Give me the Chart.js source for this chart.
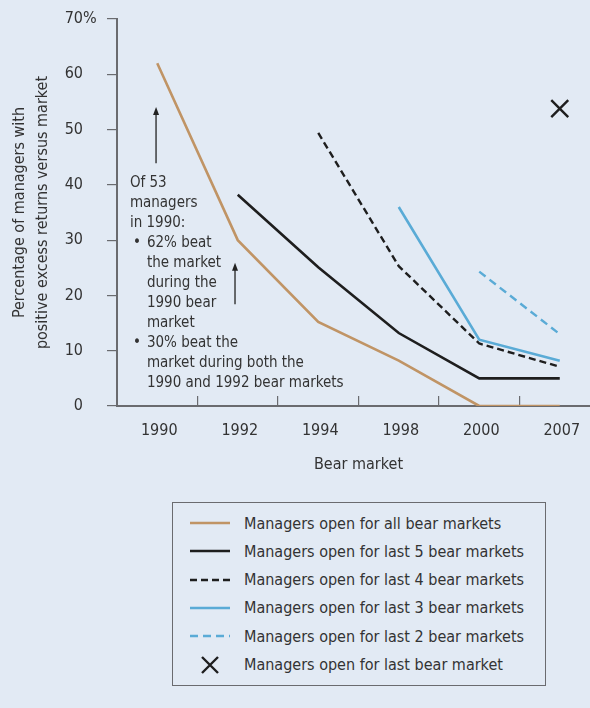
<!DOCTYPE html>
<html>
<head>
<meta charset="utf-8">
<script src="https://cdn.jsdelivr.net/npm/chart.js@4.4.1/dist/chart.umd.min.js"></script>
<style>
  html, body { margin: 0; padding: 0; background: #e2eaf4; overflow: hidden; width: 590px; height: 708px; }
  #wrap { position: absolute; left: 0; top: 0; width: 600px; height: 480px; }
  #legend { position: absolute; left: 172px; top: 502px; width: 372px; height: 182px; border: 1px solid #6a6b6f;
    font-family: "DejaVu Sans Condensed", "DejaVu Sans", sans-serif; font-stretch: condensed; font-size: 16px; color: #333; }
  .row { position: absolute; left: 0; height: 28px; display: flex; align-items: center; }
  .row svg { margin-left: 16px; width: 42px; height: 20px; }
  .row span { margin-left: 13px; white-space: nowrap; }
</style>
</head>
<body>
<div id="wrap"><canvas id="c" width="600" height="480"></canvas></div>
<div id="legend"></div>
<script>
const categories = ['1990', '1992', '1994', '1998', '2000', '2007'];
const allBear   = [62, 30, 15.2, 8.2, 0, 0];
const last5     = [null, 38.2, 25.1, 13.2, 5, 5];
const last4     = [null, null, 49.4, 25.3, 11.3, 7.1];
const last3     = [null, null, null, 36, 12, 8.2];
const last2     = [null, null, null, null, 24.3, 13];
const last1     = [null, null, null, null, null, 53.8];
const seriesNames = [
  'Managers open for all bear markets',
  'Managers open for last 5 bear markets',
  'Managers open for last 4 bear markets',
  'Managers open for last 3 bear markets',
  'Managers open for last 2 bear markets',
  'Managers open for last bear market'
];
const yTicks = [0, 10, 20, 30, 40, 50, 60, 70];
const noteLines = [
  {t: 'Of 53', indent: 0},
  {t: 'managers', indent: 0},
  {t: 'in 1990:', indent: 0},
  {t: '62% beat', indent: 1, bullet: true},
  {t: 'the market', indent: 1},
  {t: 'during the', indent: 1},
  {t: '1990 bear', indent: 1},
  {t: 'market', indent: 1},
  {t: '30% beat the', indent: 1, bullet: true},
  {t: 'market during both the', indent: 1},
  {t: '1990 and 1992 bear markets', indent: 1}
];

const FONT = '"DejaVu Sans Condensed", "DejaVu Sans", sans-serif';
const TXT = '#333333';
const AX = '#6a6b6f';
const TAN = '#c09465';
const BLUE = '#5aabd6';
const BLK = '#1e1e1e';

const annotPlugin = {
  id: 'annot',
  afterDatasetsDraw(chart) {
    const {ctx, scales: {x, y}} = chart;
    ctx.save();
    // "70%" top label
    ctx.font = '16px ' + FONT;
    ctx.fillStyle = TXT;
    ctx.textBaseline = 'middle';
    ctx.textAlign = 'left';
    const w70 = ctx.measureText('70').width;
    ctx.fillText('70%', y.right - 34 - w70, y.getPixelForValue(70));
    // note text
    ctx.font = '15px ' + FONT;
    const x0 = x.getPixelForValue(-0.34);
    let yy = y.getPixelForValue(40.3);
    noteLines.forEach(l => {
      if (l.bullet) ctx.fillText('\u2022', x0 + 3, yy);
      ctx.fillText(l.t, x0 + (l.indent ? 17 : 0), yy);
      yy += 20;
    });
    // arrows
    const arrow = (xv, y1v, y2v) => {
      const ax = x.getPixelForValue(xv);
      const a1 = y.getPixelForValue(y1v), a2 = y.getPixelForValue(y2v);
      ctx.strokeStyle = '#222';
      ctx.fillStyle = '#222';
      ctx.lineWidth = 1.3;
      ctx.beginPath(); ctx.moveTo(ax, a1); ctx.lineTo(ax, a2 + 6); ctx.stroke();
      ctx.beginPath(); ctx.moveTo(ax, a2); ctx.lineTo(ax - 3, a2 + 8); ctx.lineTo(ax + 3, a2 + 8); ctx.closePath(); ctx.fill();
    };
    arrow(-0.015, 43.9, 54.1);
    arrow(0.966, 18.4, 25.9);
    ctx.restore();
  }
};

const chart = new Chart(document.getElementById('c'), {
  type: 'line',
  data: {
    labels: categories,
    datasets: [
      {label: seriesNames[0], data: allBear, borderColor: TAN, borderWidth: 2.6, pointRadius: 0},
      {label: seriesNames[1], data: last5, borderColor: BLK, borderWidth: 2.6, pointRadius: 0},
      {label: seriesNames[2], data: last4, borderColor: BLK, borderWidth: 2.4, borderDash: [7, 4], pointRadius: 0},
      {label: seriesNames[3], data: last3, borderColor: BLUE, borderWidth: 2.6, pointRadius: 0},
      {label: seriesNames[4], data: last2, borderColor: BLUE, borderWidth: 2.4, borderDash: [8, 5], pointRadius: 0},
      {label: seriesNames[5], data: last1, borderColor: BLK, borderWidth: 2.4, showLine: false, pointStyle: 'crossRot', pointRadius: 12, pointBorderWidth: 2.4, pointBorderColor: BLK}
    ]
  },
  options: {
    responsive: false,
    animation: false,
    spanGaps: false,
    layout: {autoPadding: false, padding: {top: 19, right: 0, left: 0, bottom: 0}},
    plugins: {legend: {display: false}, tooltip: {enabled: false}},
    elements: {line: {tension: 0, borderCapStyle: 'butt', borderJoinStyle: 'miter'}},
    scales: {
      x: {
        type: 'category',
        offset: true,
        grid: {offset: true, drawOnChartArea: false, drawTicks: true, tickLength: -10, color: AX, lineWidth: 1.2},
        border: {color: AX, width: 2},
        ticks: {color: TXT, font: {family: FONT, size: 16}, padding: 25, labelOffset: 2, maxRotation: 0, autoSkip: false},
        title: {display: true, text: 'Bear market', color: TXT, font: {family: FONT, size: 16}, padding: {top: 0, bottom: 6}},
        afterFit(s) { s.height = 74; s.paddingLeft = 0; s.paddingRight = 0; }
      },
      y: {
        min: 0, max: 70,
        afterBuildTicks(s) { s.ticks = yTicks.map(v => ({value: v})); },
        grid: {drawOnChartArea: false, drawTicks: true, tickLength: 10, color: AX, lineWidth: 1.2},
        border: {color: AX, width: 2},
        ticks: {color: TXT, font: {family: FONT, size: 16}, padding: 24, callback: v => (v === 70 ? '' : String(v))},
        title: {display: true, text: ['Percentage of managers with', 'positive excess returns versus market'], color: TXT,
          font: {family: FONT, size: 16, lineHeight: 1.45}, padding: {top: 8, bottom: 0}},
        afterFit(s) { s.width = 117; s.paddingTop = 10; s.paddingBottom = 10; }
      }
    }
  },
  plugins: [annotPlugin]
});

// HTML legend built from the chart's datasets
const leg = document.getElementById('legend');
chart.data.datasets.forEach((ds, i) => {
  const row = document.createElement('div');
  row.className = 'row';
  row.style.top = (6 + i * 28.3) + 'px';
  let svg;
  if (ds.pointStyle === 'crossRot') {
    svg = '<svg viewBox="0 0 42 20"><path d="M13 2 L29 18 M29 2 L13 18" stroke="' + ds.borderColor + '" stroke-width="2.4" fill="none"/></svg>';
  } else {
    const dash = ds.borderDash ? ds.borderDash.join(' ') : 'none';
    svg = '<svg viewBox="0 0 42 20"><line x1="1" y1="10" x2="41" y2="10" stroke="' + ds.borderColor + '" stroke-width="2.6" stroke-dasharray="' + dash + '"/></svg>';
  }
  row.innerHTML = svg + '<span>' + ds.label + '</span>';
  leg.appendChild(row);
});
</script>
</body>
</html>
